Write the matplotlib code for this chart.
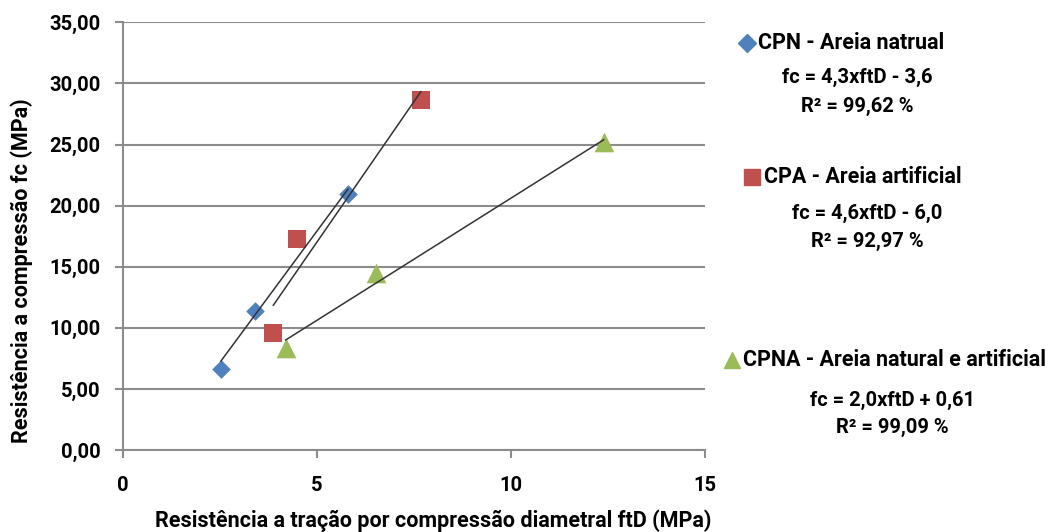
import numpy as np
import matplotlib
matplotlib.use("Agg")
import matplotlib.pyplot as plt
from matplotlib.ticker import FuncFormatter

plt.rcParams['font.family'] = ['Roboto', 'DejaVu Sans']
plt.rcParams['font.weight'] = 'bold'

# ftD (x) e fc (y) de cada traço
cpn_ftd = [2.53, 3.41, 5.80]
cpn_fc = [6.60, 11.36, 20.99]
cpa_ftd = [3.88, 4.48, 7.68]
cpa_fc = [9.54, 17.28, 28.68]
cpna_ftd = [4.20, 6.52, 12.39]
cpna_fc = [8.35, 14.45, 25.18]

# retas de tendência (coef. angular, linear)
cpn_fit = (4.3, -3.6)
cpa_fit = (4.6, -6.0)
cpna_fit = (2.0, 0.61)

series_names = ["CPN - Areia natrual", "CPA - Areia artificial",
                "CPNA - Areia natural e artificial"]
equations = ["fc = 4,3xftD - 3,6", "fc = 4,6xftD - 6,0", "fc = 2,0xftD + 0,61"]
r2_labels = ["R² = 99,62 %", "R² = 92,97 %", "R² = 99,09 %"]

blue, red, green = "#4F81BD", "#C0504D", "#9BBB59"

fig = plt.figure(figsize=(10.53, 5.32), dpi=100)
ax = fig.add_axes([0.1165, 0.154, 0.553, 0.804])

for xs, ys, fit in [(cpn_ftd, cpn_fc, cpn_fit), (cpa_ftd, cpa_fc, cpa_fit),
                    (cpna_ftd, cpna_fc, cpna_fit)]:
    xx = np.array([min(xs), max(xs)])
    ax.plot(xx, fit[0] * xx + fit[1], color="#333333", lw=1.1, zorder=4)

ax.scatter(cpn_ftd, cpn_fc, marker="D", s=90, color=blue, zorder=3, lw=0)
ax.scatter(cpa_ftd, cpa_fc, marker="s", s=170, color=red, zorder=3, lw=0)
ax.scatter(cpna_ftd, cpna_fc, marker="^", s=200, color=green, zorder=3, lw=0)

ax.set_xlim(0, 15)
ax.set_ylim(0, 35)
ax.set_xticks([0, 5, 10, 15])
ax.set_yticks(np.arange(0, 36, 5))
ax.yaxis.set_major_formatter(FuncFormatter(lambda v, p: f"{v:.2f}".replace(".", ",")))
ax.grid(axis="y", color="#8c8c8c", lw=1.5)
ax.set_axisbelow(True)
for s in ["top", "right"]:
    ax.spines[s].set_visible(False)
for s in ["left", "bottom"]:
    ax.spines[s].set_color("#8c8c8c")
    ax.spines[s].set_linewidth(1.5)
ax.tick_params(axis="both", colors="#8c8c8c", width=1.5, length=6,
               labelcolor="black", labelsize=14.5)
ax.tick_params(axis="x", pad=13)
ax.tick_params(axis="y", pad=10)
for lbl in ax.get_xticklabels() + ax.get_yticklabels():
    lbl.set_fontweight("bold")

ax.set_xlabel("Resistência a tração por compressão diametral ftD (MPa)",
              fontsize=15.5, fontweight="bold")
ax.set_ylabel("Resistência a compressão fc (MPa)",
              fontsize=15.5, fontweight="bold")
ax.xaxis.set_label_coords(0.533, -0.138)
ax.yaxis.set_label_coords(-0.154, 0.42)

# legenda desenhada com texto, em coordenadas de pixel
W, H = 1053, 532
def px(x, y):
    return x / W, 1 - y / H

legend_rows = [
    ("D", blue, 9, 747, 43, 758, 857, 77, 106),
    ("s", red, 11, 752, 177, 764, 867, 213, 241),
    ("^", green, 12, 732, 360, 743, 892, 400, 427),
]
for (mk, col, ms, mx, my, tx, cx, ey, ry), name, eq, r2 in zip(
        legend_rows, series_names, equations, r2_labels):
    fig.lines.append(plt.Line2D([mx / W], [1 - my / H], marker=mk, color=col,
                                markersize=ms, lw=0, transform=fig.transFigure))
    fig.text(*px(tx, my), name, fontsize=15.5, fontweight="bold", va="center", ha="left")
    fig.text(*px(cx, ey), eq, fontsize=14.5, fontweight="bold", va="center", ha="center")
    fig.text(*px(cx, ry), r2, fontsize=14.5, fontweight="bold", va="center", ha="center")

fig.savefig("out.png", dpi=100)
